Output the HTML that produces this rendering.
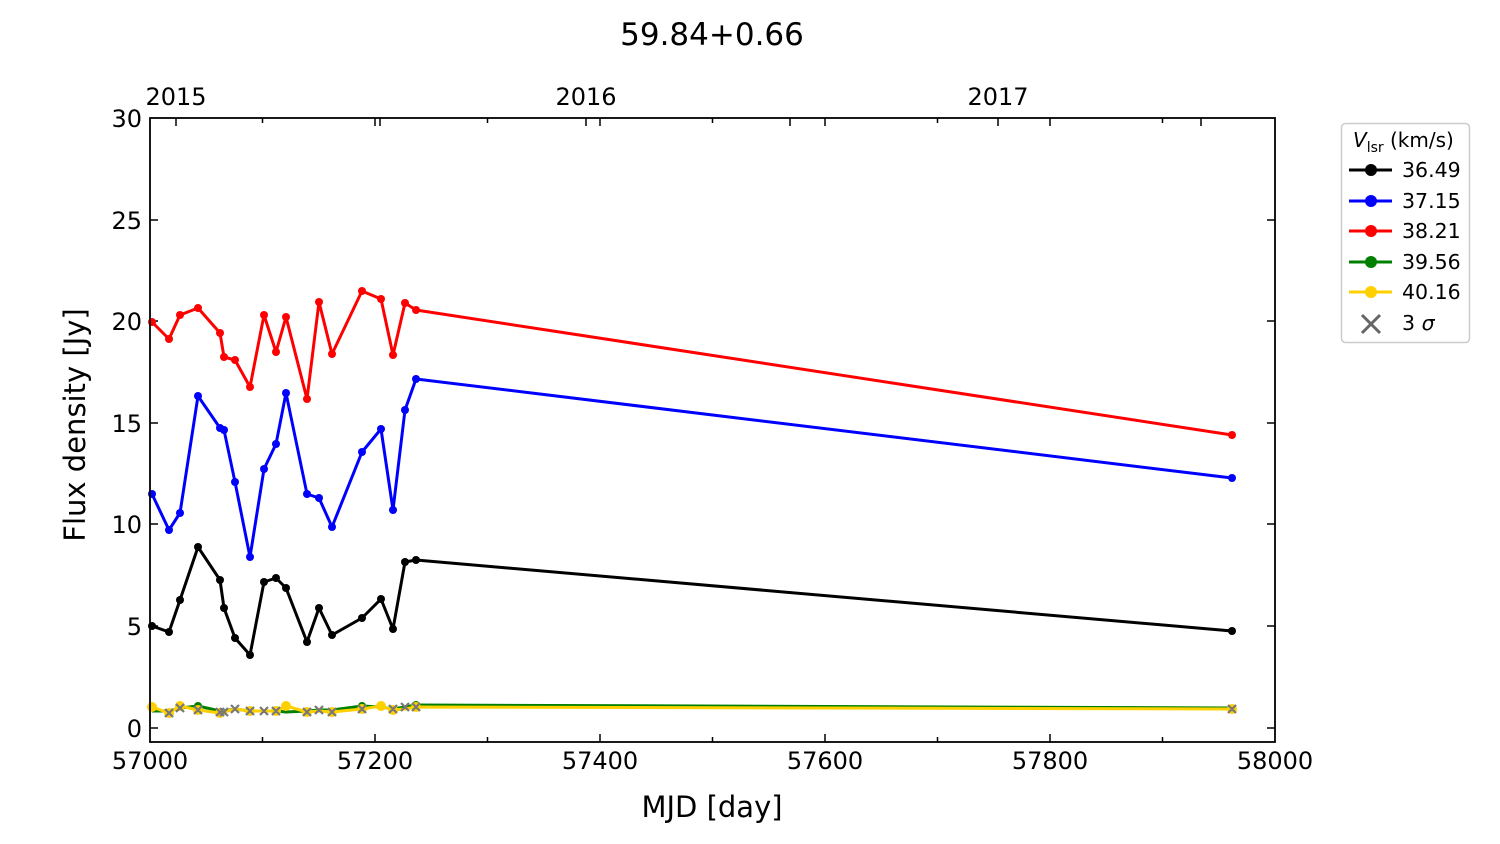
<!DOCTYPE html><html><head><style>body{margin:0;background:#fff}svg{display:block}text{font-family:"DejaVu Sans","Liberation Sans",sans-serif;fill:#000}</style></head><body>
<svg width="1500" height="844" viewBox="0 0 1500 844" xmlns="http://www.w3.org/2000/svg">
<text x="712" y="45" font-size="31" text-anchor="middle">59.84+0.66</text>
<g font-size="24" text-anchor="middle">
<text x="176" y="105">2015</text><text x="586" y="105">2016</text><text x="998" y="105">2017</text>
<text x="150" y="769">57000</text><text x="375" y="769">57200</text><text x="600" y="769">57400</text><text x="825" y="769">57600</text><text x="1050" y="769">57800</text><text x="1275" y="769">58000</text>
</g>
<g font-size="24" text-anchor="end">
<text x="142" y="737">0</text><text x="142" y="635">5</text><text x="142" y="533">10</text><text x="142" y="432">15</text><text x="142" y="330">20</text><text x="142" y="229">25</text><text x="142" y="127">30</text>
</g>
<text x="712" y="817" font-size="29" text-anchor="middle">MJD [day]</text>
<text transform="translate(85,425) rotate(-90)" font-size="29" text-anchor="middle">Flux density [Jy]</text>
<g stroke="#000" stroke-width="1.5">
<path d="M262.5 742v-5M487.5 742v-5M712.5 742v-5M937.5 742v-5M1162.5 742v-5M375 742v-8M600 742v-8M825 742v-8M1050 742v-8M262.5 118v5M487.5 118v5M712.5 118v5M937.5 118v5M1162.5 118v5M375 118v8M600 118v8M825 118v8M1050 118v8"/>
<path d="M150 728h8M150 626h8M150 524h8M150 423h8M150 321h8M150 220h8M1275 728h-8M1275 626h-8M1275 524h-8M1275 423h-8M1275 321h-8M1275 220h-8"/>
<path d="M176 118v8M380 118v8M586 118v8M790 118v8M998 118v8M1201 118v8"/>
</g>
<g fill="none" stroke-width="3" stroke-linejoin="round">
<polyline stroke="#ff0000" points="152,322 169,339 180,315 198,308 220,333 224,357 235,360 250,387 264,315 276,352 286,317 307,399 319,302 332,354 362,291 381,299 393,355 405,303 416,310 1232,435"/>
<polyline stroke="#0000ff" points="152,494 169,530 180,513 198,396 220,428 224,430 235,482 250,557 264,469 276,444 286,393 307,494 319,498 332,527 362,452 381,429 393,510 405,410 416,379 1232,478"/>
<polyline stroke="#000" points="152,626 169,632 180,600 198,547 220,580 224,608 235,638 250,655 264,582 276,578 286,588 307,642 319,608 332,635 362,618 381,599 393,629 405,562 416,560 1232,631"/>
<polyline stroke="#008000" points="152,711 169,711 180,708 198,706 220,711 224,711 235,709 250,711 264,711 276,711 286,712 307,711 319,710 332,710 362,706 381,707 393,709 405,707 416,705 1232,708"/>
<polyline stroke="#ffd000" points="152,707 169,713 180,706 198,710 220,713 224,712 235,709 250,711 264,711 276,711 286,706 307,712 319,711 332,712 362,709 381,706 393,710 405,709 416,707 1232,709"/>
</g>
<g fill="#ff0000"><circle cx="152" cy="322" r="4"/><circle cx="169" cy="339" r="4"/><circle cx="180" cy="315" r="4"/><circle cx="198" cy="308" r="4"/><circle cx="220" cy="333" r="4"/><circle cx="224" cy="357" r="4"/><circle cx="235" cy="360" r="4"/><circle cx="250" cy="387" r="4"/><circle cx="264" cy="315" r="4"/><circle cx="276" cy="352" r="4"/><circle cx="286" cy="317" r="4"/><circle cx="307" cy="399" r="4"/><circle cx="319" cy="302" r="4"/><circle cx="332" cy="354" r="4"/><circle cx="362" cy="291" r="4"/><circle cx="381" cy="299" r="4"/><circle cx="393" cy="355" r="4"/><circle cx="405" cy="303" r="4"/><circle cx="416" cy="310" r="4"/><circle cx="1232" cy="435" r="4"/></g>
<g fill="#0000ff"><circle cx="152" cy="494" r="4"/><circle cx="169" cy="530" r="4"/><circle cx="180" cy="513" r="4"/><circle cx="198" cy="396" r="4"/><circle cx="220" cy="428" r="4"/><circle cx="224" cy="430" r="4"/><circle cx="235" cy="482" r="4"/><circle cx="250" cy="557" r="4"/><circle cx="264" cy="469" r="4"/><circle cx="276" cy="444" r="4"/><circle cx="286" cy="393" r="4"/><circle cx="307" cy="494" r="4"/><circle cx="319" cy="498" r="4"/><circle cx="332" cy="527" r="4"/><circle cx="362" cy="452" r="4"/><circle cx="381" cy="429" r="4"/><circle cx="393" cy="510" r="4"/><circle cx="405" cy="410" r="4"/><circle cx="416" cy="379" r="4"/><circle cx="1232" cy="478" r="4"/></g>
<g fill="#000"><circle cx="152" cy="626" r="4"/><circle cx="169" cy="632" r="4"/><circle cx="180" cy="600" r="4"/><circle cx="198" cy="547" r="4"/><circle cx="220" cy="580" r="4"/><circle cx="224" cy="608" r="4"/><circle cx="235" cy="638" r="4"/><circle cx="250" cy="655" r="4"/><circle cx="264" cy="582" r="4"/><circle cx="276" cy="578" r="4"/><circle cx="286" cy="588" r="4"/><circle cx="307" cy="642" r="4"/><circle cx="319" cy="608" r="4"/><circle cx="332" cy="635" r="4"/><circle cx="362" cy="618" r="4"/><circle cx="381" cy="599" r="4"/><circle cx="393" cy="629" r="4"/><circle cx="405" cy="562" r="4"/><circle cx="416" cy="560" r="4"/><circle cx="1232" cy="631" r="4"/></g>
<g fill="#008000"><circle cx="198" cy="706" r="4"/><circle cx="362" cy="706" r="4"/><circle cx="416" cy="705" r="4"/></g>
<g fill="#ffd000"><circle cx="152" cy="707" r="5"/><circle cx="169" cy="713" r="5"/><circle cx="180" cy="706" r="5"/><circle cx="198" cy="710" r="5"/><circle cx="220" cy="713" r="5"/><circle cx="250" cy="711" r="5"/><circle cx="276" cy="711" r="5"/><circle cx="286" cy="706" r="5"/><circle cx="307" cy="712" r="5"/><circle cx="332" cy="712" r="5"/><circle cx="362" cy="709" r="5"/><circle cx="381" cy="706" r="5"/><circle cx="393" cy="710" r="5"/><circle cx="416" cy="707" r="5"/><circle cx="1232" cy="709" r="5"/></g>
<g stroke="#777" stroke-width="2.2">
<path d="M165 709l8 8M173 709l-8 8M216 708l8 8M224 708l-8 8M220 708l8 8M228 708l-8 8M231 705l8 8M239 705l-8 8M246 707l8 8M254 707l-8 8M260 707l8 8M268 707l-8 8M272 707l8 8M280 707l-8 8M303 708l8 8M311 708l-8 8M315 706l8 8M323 706l-8 8M328 708l8 8M336 708l-8 8M389 705l8 8M397 705l-8 8M401 703l8 8M409 703l-8 8M1228 705l8 8M1236 705l-8 8M176 704l8 8M184 704l-8 8M194 706l8 8M202 706l-8 8M358 705l8 8M366 705l-8 8M412 703l8 8M420 703l-8 8"/>
</g>
<rect x="150" y="118" width="1125" height="624" fill="none" stroke="#000" stroke-width="1.8"/>
<rect x="1341.5" y="123.5" width="128" height="219" rx="4" fill="#fff" stroke="#ccc" stroke-width="1.5"/>
<text x="1353" y="147" font-size="20"><tspan font-style="italic">V</tspan><tspan font-size="14" dy="5">lsr</tspan><tspan dy="-5"> (km/s)</tspan></text>
<g stroke-width="3">
<line x1="1349" y1="170" x2="1392" y2="170" stroke="#000"/><line x1="1349" y1="201" x2="1392" y2="201" stroke="#0000ff"/><line x1="1349" y1="231" x2="1392" y2="231" stroke="#ff0000"/><line x1="1349" y1="262" x2="1392" y2="262" stroke="#008000"/><line x1="1349" y1="292" x2="1392" y2="292" stroke="#ffd000"/>
</g>
<circle cx="1371" cy="170" r="6" fill="#000"/><circle cx="1371" cy="201" r="6" fill="#0000ff"/><circle cx="1371" cy="231" r="6" fill="#ff0000"/><circle cx="1371" cy="262" r="6" fill="#008000"/><circle cx="1371" cy="292" r="6" fill="#ffd000"/>
<path d="M1362 315l18 18M1380 315l-18 18" stroke="#666" stroke-width="3"/>
<g font-size="20.5"><text x="1402" y="177">36.49</text><text x="1402" y="208">37.15</text><text x="1402" y="238">38.21</text><text x="1402" y="269">39.56</text><text x="1402" y="299">40.16</text><text x="1402" y="330">3 <tspan font-style="italic">σ</tspan></text></g>
</svg></body></html>
